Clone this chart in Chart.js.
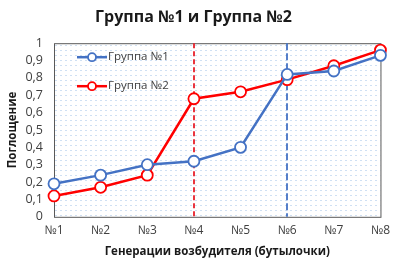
<!DOCTYPE html>
<html>
<head>
<meta charset="utf-8">
<script src="https://cdn.jsdelivr.net/npm/chart.js@4.4.1/dist/chart.umd.min.js"></script>
<style>
  html, body { margin: 0; padding: 0; background: #fff; }
  #wrap { width: 397px; height: 266px; }
</style>
</head>
<body>
<div id="wrap"><canvas id="chart" width="397" height="266"></canvas></div>
<script>
// data
var categories = ['№1', '№2', '№3', '№4', '№5', '№6', '№7', '№8'];
var group1 = [0.19, 0.24, 0.30, 0.32, 0.40, 0.82, 0.84, 0.93];
var group2 = [0.12, 0.17, 0.24, 0.68, 0.72, 0.79, 0.87, 0.96];
var markerLines = [
    { index: 3, color: '#E8202A', dash: [5, 3] },
    { index: 5, color: '#4472C4', dash: [7, 3] }
];

var BLUE = '#4472C4';
var RED = '#FF0000';
var FONT = '"Open Sans", "Liberation Sans", sans-serif';

// dotted background of the plot area
function makeDots() {
    var c = document.createElement('canvas');
    c.width = 5; c.height = 5;
    var g = c.getContext('2d');
    g.fillStyle = '#fff';
    g.fillRect(0, 0, 5, 5);
    g.fillStyle = '#CFE0F3';
    g.fillRect(0, 0, 2, 1);
    return c;
}

var plotDecor = {
    id: 'plotDecor',
    beforeDatasetsDraw: function (chart) {
        var ctx = chart.ctx, a = chart.chartArea;
        ctx.save();
        ctx.fillStyle = ctx.createPattern(makeDots(), 'repeat');
        ctx.fillRect(a.left, a.top, a.right - a.left, a.bottom - a.top);
        // frame
        ctx.strokeStyle = '#595959';
        ctx.lineWidth = 1;
        ctx.strokeRect(a.left + 0.5, a.top + 0.5, a.right - a.left, a.bottom - a.top);
        // dashed vertical lines
        var xs = chart.scales.x;
        ctx.lineWidth = 1.8;
        markerLines.forEach(function (m) {
            var px = Math.round(xs.getPixelForValue(m.index));
            ctx.setLineDash(m.dash);
            ctx.strokeStyle = m.color;
            ctx.beginPath();
            ctx.moveTo(px, a.top);
            ctx.lineTo(px, a.bottom);
            ctx.stroke();
        });
        ctx.restore();
    },
    afterDatasetsDraw: function (chart) {
        // legend inside plot, top-left
        var ctx = chart.ctx, a = chart.chartArea;
        ctx.save();
        ctx.font = '11.5px ' + FONT;
        ctx.textBaseline = 'middle';
        chart.data.datasets.forEach(function (ds, i) {
            var y = a.top + 14 + i * 29;
            var x0 = a.left + 23;
            ctx.strokeStyle = ds.borderColor;
            ctx.lineWidth = 2.5;
            ctx.beginPath();
            ctx.moveTo(x0, y);
            ctx.lineTo(x0 + 30, y);
            ctx.stroke();
            ctx.beginPath();
            ctx.arc(x0 + 15, y, 4, 0, Math.PI * 2);
            ctx.fillStyle = '#fff';
            ctx.fill();
            ctx.lineWidth = 1.8;
            ctx.stroke();
            ctx.fillStyle = '#404040';
            ctx.fillText(ds.label, x0 + 31, y);
        });
        ctx.restore();
    }
};

new Chart(document.getElementById('chart').getContext('2d'), {
    type: 'line',
    data: {
        labels: categories,
        datasets: [{
            label: 'Группа №1',
            data: group1,
            borderColor: BLUE,
            backgroundColor: '#fff',
            borderWidth: 2.5,
            pointRadius: 5.5,
            pointBorderWidth: 1.8,
            pointBackgroundColor: '#fff',
            pointBorderColor: BLUE,
            tension: 0
        }, {
            label: 'Группа №2',
            data: group2,
            borderColor: RED,
            backgroundColor: '#fff',
            borderWidth: 2.5,
            pointRadius: 5.5,
            pointBorderWidth: 1.8,
            pointBackgroundColor: '#fff',
            pointBorderColor: RED,
            tension: 0
        }]
    },
    options: {
        responsive: false,
        animation: false,
        layout: { padding: { left: 6, right: 16, top: 0, bottom: 7 } },
        plugins: {
            legend: { display: false },
            tooltip: { enabled: false },
            title: {
                display: true,
                text: 'Группа №1 и Группа №2',
                color: '#1a1a1a',
                font: { family: FONT, size: 16, weight: 'bold' },
                padding: { top: 8, bottom: 16 }
            }
        },
        scales: {
            x: {
                offset: false,
                grid: { display: false, drawTicks: false },
                border: { display: false },
                ticks: { color: '#404040', font: { family: FONT, size: 12 }, padding: 7, maxRotation: 0, autoSkip: false },
                title: {
                    display: true,
                    text: 'Генерации возбудителя (бутылочки)',
                    color: '#1a1a1a',
                    font: { family: FONT, size: 11.5, weight: 'bold' },
                    padding: { top: 0, bottom: 0 }
                }
            },
            y: {
                min: 0,
                max: 1,
                grid: { display: false, drawTicks: false },
                border: { display: false },
                afterFit: function (scale) { scale.width = 48; },
                ticks: {
                    stepSize: 0.1,
                    autoSkip: false,
                    color: '#404040',
                    font: { family: FONT, size: 12.5 },
                    padding: 11,
                    callback: function (v) {
                        return String(Math.round(v * 10) / 10).replace('.', ',');
                    }
                },
                title: {
                    display: true,
                    text: 'Поглощение',
                    color: '#1a1a1a',
                    font: { family: FONT, size: 11.5, weight: 'bold' },
                    padding: { top: 0, bottom: 2 }
                }
            }
        }
    },
    plugins: [plotDecor]
});
</script>
</body>
</html>
